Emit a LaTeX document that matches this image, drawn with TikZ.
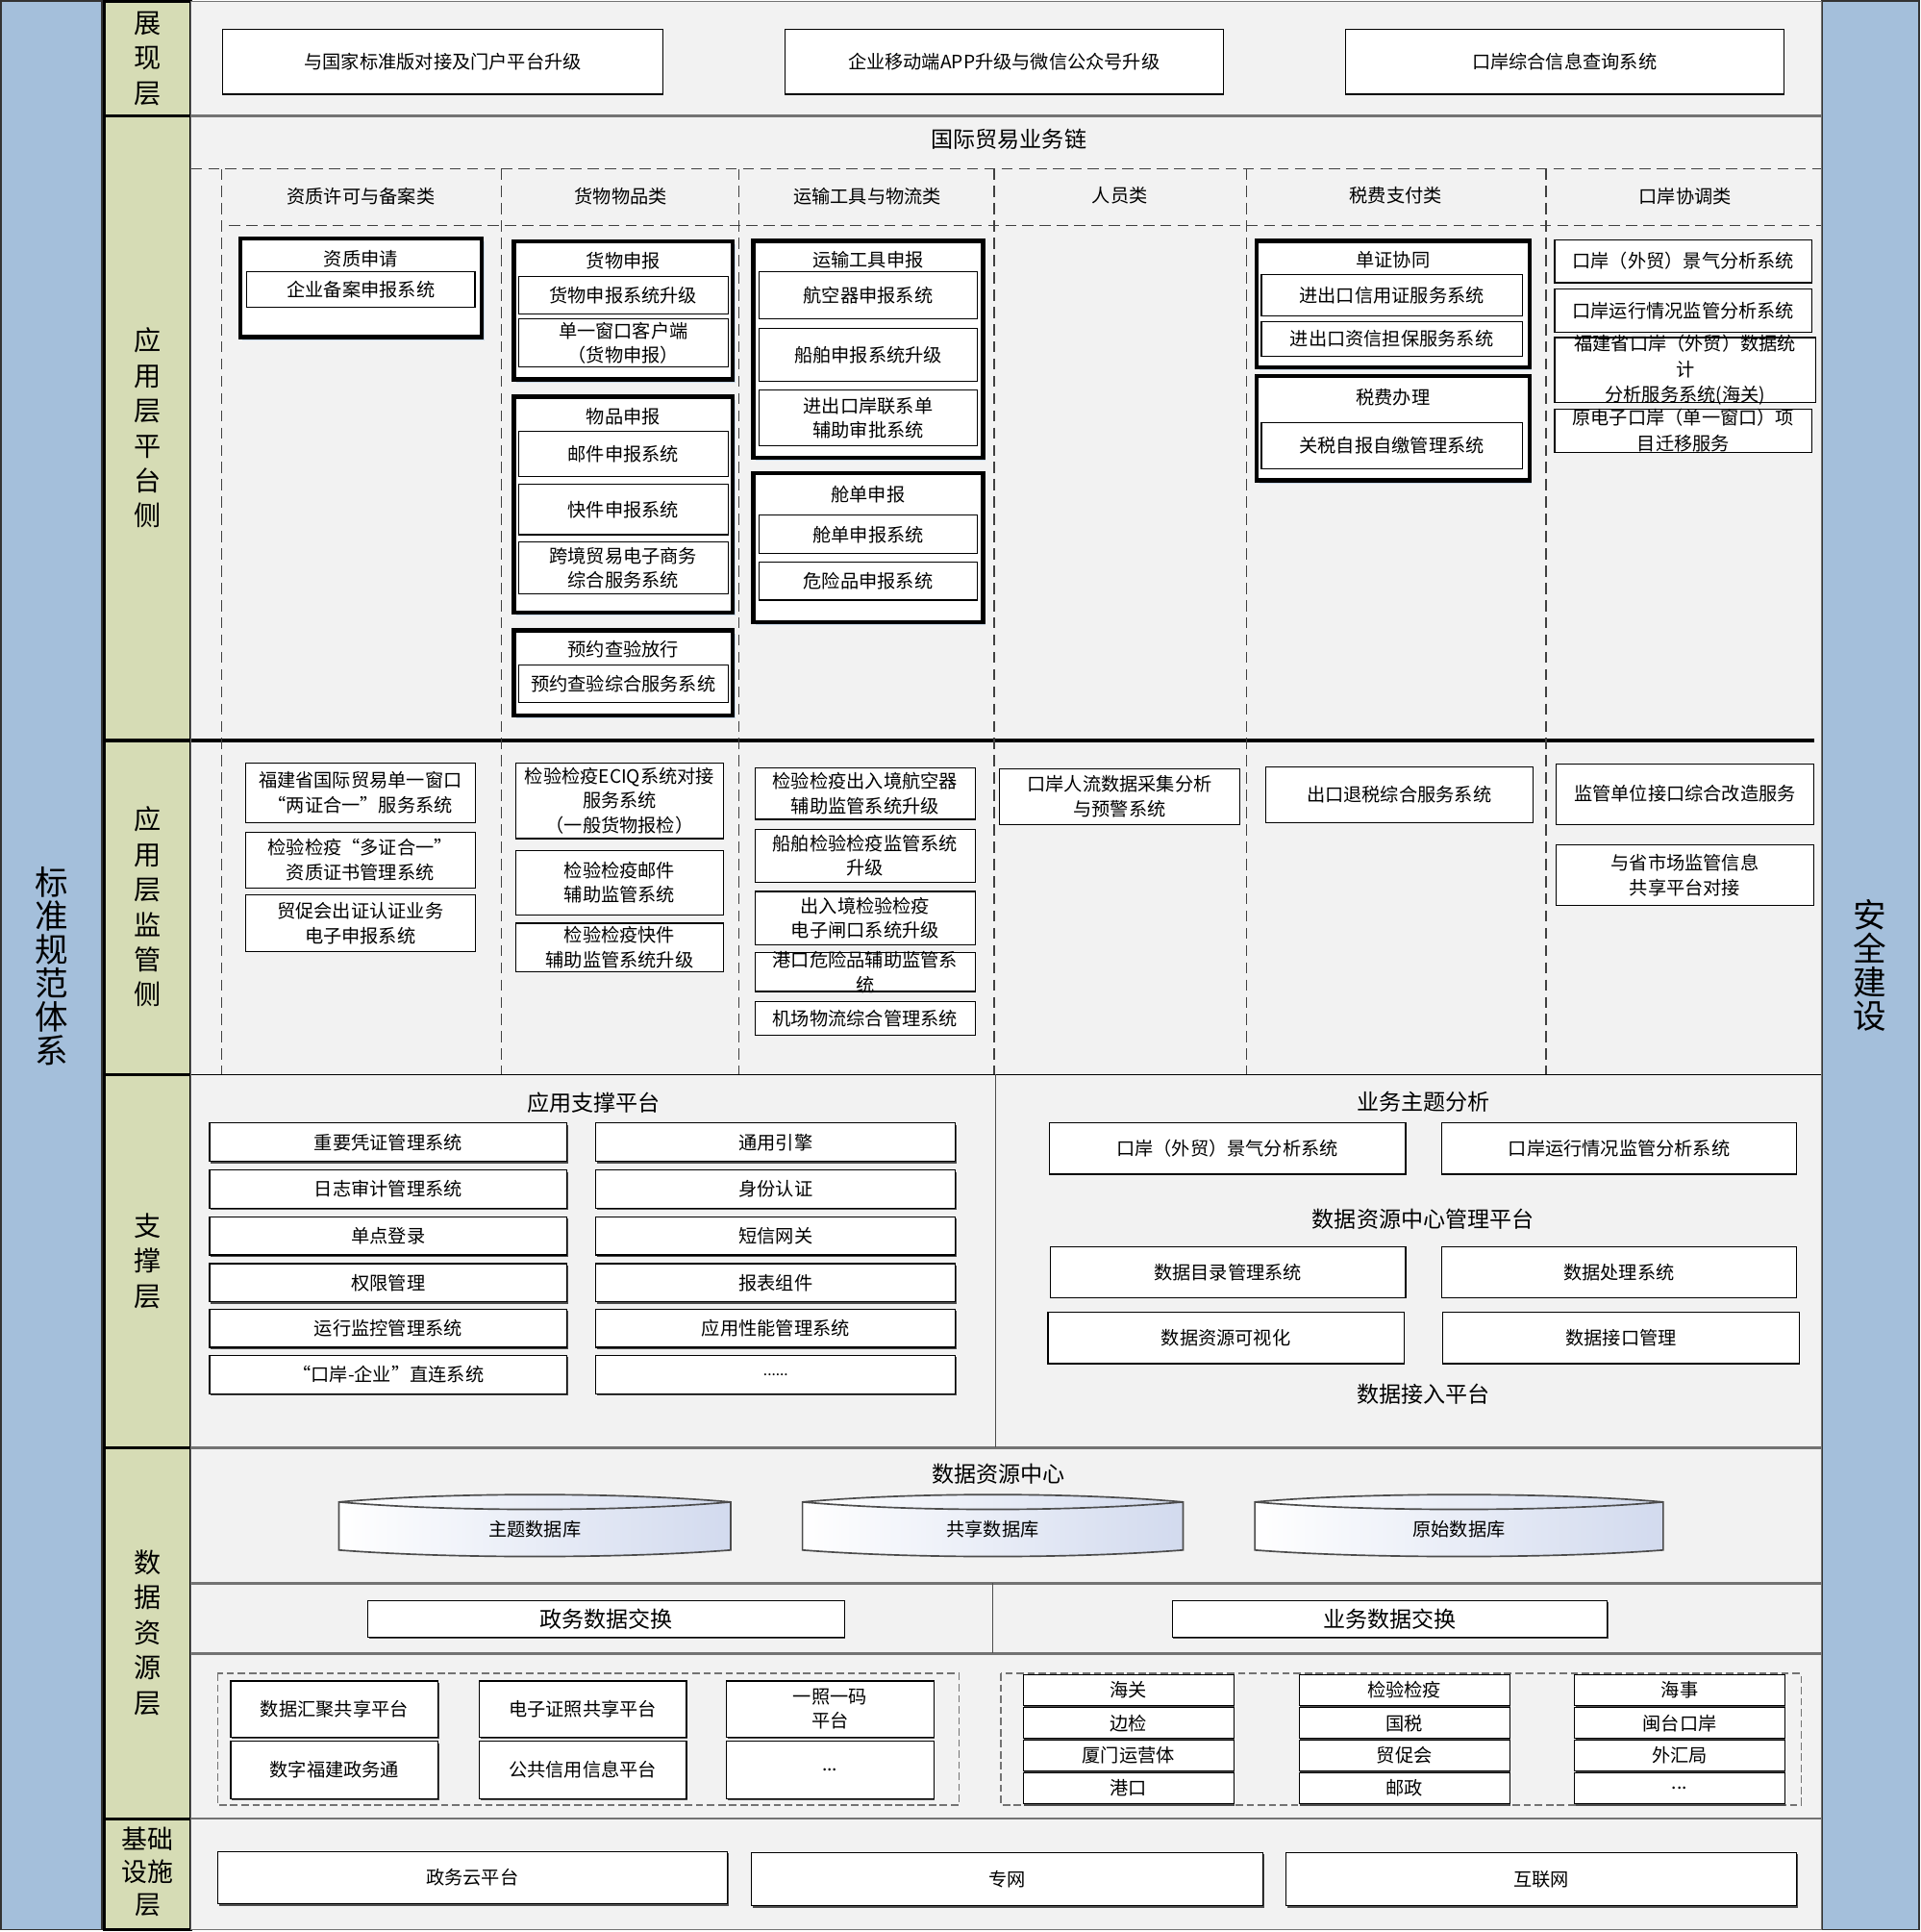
\documentclass[tikz,border=0pt]{standalone}
\usepackage{fontspec}
\setmainfont{Noto Sans CJK SC}
\usetikzlibrary{shadows}

\definecolor{sideblue}{RGB}{164,191,219}
\definecolor{layergreen}{RGB}{214,220,181}
\definecolor{panelgray}{RGB}{242,242,242}
\definecolor{drumblue}{RGB}{210,218,238}

\tikzset{
  sz/.style 2 args={minimum width=#1pt, minimum height=#2pt},
  sysbox/.style={draw=black, fill=white, line width=0.9pt, align=center, inner sep=1pt,
    font=\fontsize{15}{20}\selectfont},
  grpbox/.style={draw=black, fill=white, line width=3.5pt,
    drop shadow={shadow xshift=2pt, shadow yshift=-2.5pt, fill=sideblue!60, opacity=1}},
  supbox/.style={sysbox, drop shadow={shadow xshift=1pt, shadow yshift=-1.6pt, fill=black!70, opacity=1}},
  plain/.style={align=center, inner sep=0pt, font=\fontsize{15}{20}\selectfont},
  hdr/.style={align=center, inner sep=0pt, font=\fontsize{18}{22}\selectfont},
  layerlbl/.style={align=center, inner sep=0pt, font=\fontsize{22}{28.4}\selectfont},
  sidelbl/.style={align=center, inner sep=0pt, font=\fontsize{27}{27.4}\selectfont},
  coldash/.style={draw=black!75, line width=0.9pt, dash pattern=on 9pt off 5pt},
  sepline/.style={draw=black!55, line width=2pt},
  grpdash/.style={draw=black!55, line width=1.2pt, dash pattern=on 6pt off 3pt},
}

% ellipsis texts (kept out of \foreach lists)
\newcommand{\moredots}{...}
\newcommand{\longdots}{{\fontsize{12}{14}\selectfont ......}}

% database drum: left x, right x, node name, label
\newcommand{\dbdrum}[4]{%
  \path[draw=black!70, line width=1.3pt, left color=white, right color=drumblue]
    (#1,1219) .. controls +(90,-8) and +(-90,-8) .. (#2,1219) -- (#2,1258)
    .. controls +(-90,7) and +(90,7) .. (#1,1258) -- cycle;
  \draw[black!70, line width=1.3pt] (#1,1219) .. controls +(90,8) and +(-90,8) .. (#2,1219);
  \node[plain] (#3) at ({(#1+#2)/2},1241) {#4};
}

\begin{document}
\begin{tikzpicture}[x=1pt, y=-1pt]
  \useasboundingbox (0,0) rectangle (1559,1568);

  % side bars
  \draw[fill=sideblue, draw=black!80, line width=1.5pt] (1,1) rectangle (83,1566);
  \draw[fill=sideblue, draw=black!80, line width=1.5pt] (1479,1) rectangle (1558,1566);
  \node[sidelbl] (stdLbl) at (42,784) {标\\准\\规\\范\\体\\系};
  \node[sidelbl] (secLbl) at (1518,783.5) {安\\全\\建\\设};

  % layer column
  \draw[fill=layergreen, line width=2pt] (84.5,1) rectangle (155,1566);
  \foreach \y in {94,601,872,1175,1476}
    \draw[line width=2.5pt] (84.5,\y) -- (155,\y);
  \node[layerlbl] (lyShow) at (120,47.5) {展\\现\\层};
  \node[layerlbl] (lyPlat) at (120,347.4) {应\\用\\层\\平\\台\\侧};
  \node[layerlbl] (lySup) at (120,736) {应\\用\\层\\监\\管\\侧};
  \node[layerlbl] (lyBase) at (120,1023.5) {支\\撑\\层};
  \node[layerlbl] (lyData) at (120,1325) {数\\据\\资\\源\\层};
  \node[layerlbl, font=\fontsize{21}{26.5}\selectfont] (lyInfra) at (120,1519) {基础\\设施\\层};

  % content panel and row lines
  \draw[fill=panelgray, draw=black!55, line width=1pt] (155,1) rectangle (1478.5,1566);
  \draw[sepline] (155,94) -- (1478.5,94);
  \draw[line width=3.5pt] (155,601) -- (1473,601);
  \draw[line width=1pt] (155,872) -- (1478.5,872);
  \foreach \y in {1175,1285,1342,1476}
    \draw[sepline] (155,\y) -- (1478.5,\y);
  \draw[line width=0.8pt, black!70] (808,872) -- (808,1175);
  \draw[line width=0.8pt, black!70] (806,1285) -- (806,1342);

  % presentation layer
  \node[sysbox, sz={357}{53}] (showPortal) at (359.5,50) {与国家标准版对接及门户平台升级};
  \node[sysbox, sz={356}{53}] (showApp) at (815,50) {企业移动端APP升级与微信公众号升级};
  \node[sysbox, sz={356}{53}] (showQuery) at (1270,50) {口岸综合信息查询系统};

  % trade chain header and columns
  \node[hdr] (chainHdr) at (819,113) {国际贸易业务链};
  \draw[coldash] (155,137) -- (1478,137);
  \draw[coldash] (186,183) -- (1478,183);
  \foreach \x in {180,407,600,807,1012,1255}
    \draw[coldash] (\x,137) -- (\x,872);
  \node[plain] (catQual) at (293,159) {资质许可与备案类};
  \node[plain] (catGoods) at (504,159) {货物物品类};
  \node[plain] (catTrans) at (704,159) {运输工具与物流类};
  \node[plain] (catStaff) at (909,159) {人员类};
  \node[plain] (catTax) at (1133,159) {税费支付类};
  \node[plain] (catPort) at (1368,159) {口岸协调类};

  % platform side, column 1
  \node[grpbox, sz={196}{80}] (grpQual) at (293,233.5) {};
  \node[plain] (ttlQual) at (293,210) {资质申请};
  \node[sysbox, sz={185}{29}] (sysFiling) at (293,235) {企业备案申报系统};

  % column 2
  \node[grpbox, sz={177.5}{112}] (grpGoods) at (506,252) {};
  \node[plain] (ttlGoods) at (506,212) {货物申报};
  \node[sysbox, sz={170}{30}] (sysGoods) at (506,239.5) {货物申报系统升级};
  \node[sysbox, sz={170}{39}] (sysSingle) at (506,278.5) {单一窗口客户端\\（货物申报）};
  \node[grpbox, sz={177.5}{175}] (grpItems) at (506,409.5) {};
  \node[plain] (ttlItems) at (506,338) {物品申报};
  \node[sysbox, sz={170}{37}] (sysMail) at (506,368.5) {邮件申报系统};
  \node[sysbox, sz={170}{41}] (sysExpress) at (506,413.5) {快件申报系统};
  \node[sysbox, sz={170}{42}] (sysEcom) at (506,461) {跨境贸易电子商务\\综合服务系统};
  \node[grpbox, sz={177.5}{69}] (grpCheck) at (506,546) {};
  \node[plain] (ttlCheck) at (506,527) {预约查验放行};
  \node[sysbox, sz={170}{30}] (sysCheck) at (506,555) {预约查验综合服务系统};

  % column 3
  \node[grpbox, sz={186.6}{176}] (grpTrans) at (704.7,283.5) {};
  \node[plain] (ttlTrans) at (704.7,211) {运输工具申报};
  \node[sysbox, sz={177.6}{38.5}] (sysAir) at (704.8,239.8) {航空器申报系统};
  \node[sysbox, sz={177.6}{43.3}] (sysShip) at (704.8,288) {船舶申报系统升级};
  \node[sysbox, sz={177.6}{44.8}] (sysLiaison) at (704.8,339.2) {进出口岸联系单\\辅助审批系统};
  \node[grpbox, sz={186.6}{121}] (grpManifest) at (704.7,444.5) {};
  \node[plain] (ttlManifest) at (704.7,401) {舱单申报};
  \node[sysbox, sz={177.6}{31.4}] (sysManifest) at (704.8,433.7) {舱单申报系统};
  \node[sysbox, sz={177.6}{31}] (sysDanger) at (704.8,471.5) {危险品申报系统};

  % column 5
  \node[grpbox, sz={221.5}{102.6}] (grpDocs) at (1130.8,246.7) {};
  \node[plain] (ttlDocs) at (1130.8,211) {单证协同};
  \node[sysbox, sz={211.6}{33.5}] (sysCredit) at (1129.8,239.5) {进出口信用证服务系统};
  \node[sysbox, sz={211.6}{28.2}] (sysGuarantee) at (1129.8,275) {进出口资信担保服务系统};
  \node[grpbox, sz={221.5}{84.7}] (grpTax) at (1130.8,347.4) {};
  \node[plain] (ttlTax) at (1130.8,322.4) {税费办理};
  \node[sysbox, sz={211.6}{37.6}] (sysDuty) at (1129.8,361.6) {关税自报自缴管理系统};

  % column 6
  \node[sysbox, sz={209}{35}] (sysClimate) at (1366.5,212) {口岸（外贸）景气分析系统};
  \node[sysbox, sz={209}{35}] (sysRunning) at (1366.5,252) {口岸运行情况监管分析系统};
  \node[sysbox, sz={212}{53}] (sysStat) at (1368,300.4) {};
  \node[plain, font=\fontsize{15}{20.5}\selectfont] (txtStat) at (sysStat) {福建省口岸（外贸）数据统\\计\\分析服务系统(海关)};
  \node[sysbox, sz={209}{35}] (sysMigrate) at (1366.5,349.4) {};
  \node[plain, font=\fontsize{15}{20.5}\selectfont] (txtMigrate) at (sysMigrate) {原电子口岸（单一窗口）项\\目迁移服务};

  % supervision side
  \node[sysbox, sz={186.5}{48.4}] (supWindow) at (292.5,643.2) {福建省国际贸易单一窗口\\“两证合一”服务系统};
  \node[sysbox, sz={186.5}{45}] (supCert) at (292.5,698) {检验检疫“多证合一”\\资质证书管理系统};
  \node[sysbox, sz={186.5}{46.3}] (supCcpit) at (292.5,749.4) {贸促会出证认证业务\\电子申报系统};
  \node[sysbox, sz={168.7}{61.6}] (supEciq) at (503,649.8) {检验检疫ECIQ系统对接\\服务系统\\（一般货物报检）};
  \node[sysbox, sz={168.7}{52}] (supMail) at (503,716.3) {检验检疫邮件\\辅助监管系统};
  \node[sysbox, sz={168.7}{39.6}] (supExpress) at (503,769.1) {检验检疫快件\\辅助监管系统升级};
  \node[sysbox, sz={179}{42}] (supAir) at (702.3,644) {检验检疫出入境航空器\\辅助监管系统升级};
  \node[sysbox, sz={179}{43}] (supShip) at (702.3,694.4) {船舶检验检疫监管系统\\升级};
  \node[sysbox, sz={179}{43}] (supGate) at (702.3,745) {出入境检验检疫\\电子闸口系统升级};
  \node[sysbox, sz={179}{31.4}] (supHaz) at (702.3,789) {};
  \node[plain] (txtHaz) at (supHaz) {港口危险品辅助监管系\\统};
  \node[sysbox, sz={179}{27.6}] (supAirport) at (702.3,826.6) {机场物流综合管理系统};
  \node[sysbox, sz={194.8}{45.3}] (supFlow) at (908.9,646.4) {口岸人流数据采集分析\\与预警系统};
  \node[sysbox, sz={217}{45.3}] (supRefund) at (1135.7,644.8) {出口退税综合服务系统};
  \node[sysbox, sz={209.6}{49.2}] (supIface) at (1367.8,644.4) {监管单位接口综合改造服务};
  \node[sysbox, sz={209.6}{49.4}] (supMarket) at (1367.8,710.1) {与省市场监管信息\\共享平台对接};

  % support layer, left half
  \node[hdr] (appHdr) at (482,895.3) {应用支撑平台};
  \foreach \y/\lt/\rt [count=\i] in {927/重要凭证管理系统/通用引擎, 965/日志审计管理系统/身份认证,
      1003/单点登录/短信网关, 1041/权限管理/报表组件, 1078/运行监控管理系统/应用性能管理系统,
      1115.5/“口岸-企业”直连系统/\longdots} {
    \node[supbox, sz={290}{31}] (supL\i) at (315.2,\y) {\lt};
    \node[supbox, sz={291.8}{31}] (supR\i) at (629.7,\y) {\rt};
  }

  % support layer, right half
  \node[hdr] (bizHdr) at (1155.3,894.2) {业务主题分析};
  \node[sysbox, sz={289.4}{42}] (bizClimate) at (996.3,932) {口岸（外贸）景气分析系统};
  \node[sysbox, sz={288.5}{42}] (bizRunning) at (1314.4,932) {口岸运行情况监管分析系统};
  \node[hdr] (drcHdr) at (1155.3,989.6) {数据资源中心管理平台};
  \node[sysbox, sz={288.5}{41.6}] (drcCatalog) at (996.8,1032.6) {数据目录管理系统};
  \node[sysbox, sz={288.6}{41.6}] (drcProc) at (1314.3,1032.6) {数据处理系统};
  \node[sysbox, sz={289}{42}] (drcVis) at (995.2,1085.7) {数据资源可视化};
  \node[sysbox, sz={289}{42}] (drcIface) at (1315.9,1085.7) {数据接口管理};
  \node[hdr] (accHdr) at (1155.3,1131.4) {数据接入平台};

  % data resource layer
  \node[hdr] (dcHdr) at (810.7,1196.4) {数据资源中心};
  \dbdrum{275.1}{593.2}{dbTopic}{主题数据库}
  \dbdrum{651.4}{960.4}{dbShare}{共享数据库}
  \dbdrum{1018.6}{1350.1}{dbRaw}{原始数据库}
  \node[supbox, sz={387}{29.6}, font=\fontsize{18}{22}\selectfont] (xchGov) at (491.9,1313.8) {政务数据交换};
  \node[supbox, sz={353}{29.6}, font=\fontsize{18}{22}\selectfont] (xchBiz) at (1128,1313.8) {业务数据交换};

  \draw[grpdash] (176.6,1358.2) rectangle (778.6,1464.9);
  \draw[grpdash] (812.6,1358.2) rectangle (1462.1,1464.9);
  \node[supbox, sz={168.4}{45.5}] (govHub) at (271.5,1387) {数据汇聚共享平台};
  \node[supbox, sz={168.4}{46.5}] (govApp) at (271.5,1436.4) {数字福建政务通};
  \node[supbox, sz={168.4}{45.5}] (govLicense) at (473.1,1387) {电子证照共享平台};
  \node[supbox, sz={168.4}{46.5}] (govCredit) at (473.1,1436.4) {公共信用信息平台};
  \node[supbox, sz={168.4}{45.5}] (govCode) at (673.8,1387) {一照一码\\平台};
  \node[supbox, sz={168.4}{46.5}] (govMore) at (673.8,1436.4) {\moredots};
  \foreach \y/\a/\b/\c [count=\i] in {1371.5/海关/检验检疫/海事, 1398.5/边检/国税/闽台口岸,
      1424.7/厦门运营体/贸促会/外汇局, 1451.3/港口/邮政/\moredots} {
    \node[supbox, sz={171}{25}] (unitA\i) at (916,\y) {\a};
    \node[supbox, sz={171}{25}] (unitB\i) at (1140,\y) {\b};
    \node[supbox, sz={170.3}{25}] (unitC\i) at (1363.5,\y) {\c};
  }

  % infrastructure layer
  \node[supbox, sz={413.8}{42.4}] (infCloud) at (383.5,1523.8) {政务云平台};
  \node[supbox, sz={414.8}{43.4}] (infPrivate) at (817.6,1525) {专网};
  \node[supbox, sz={414.8}{43.4}] (infNet) at (1251.1,1525) {互联网};
\end{tikzpicture}
\end{document}
